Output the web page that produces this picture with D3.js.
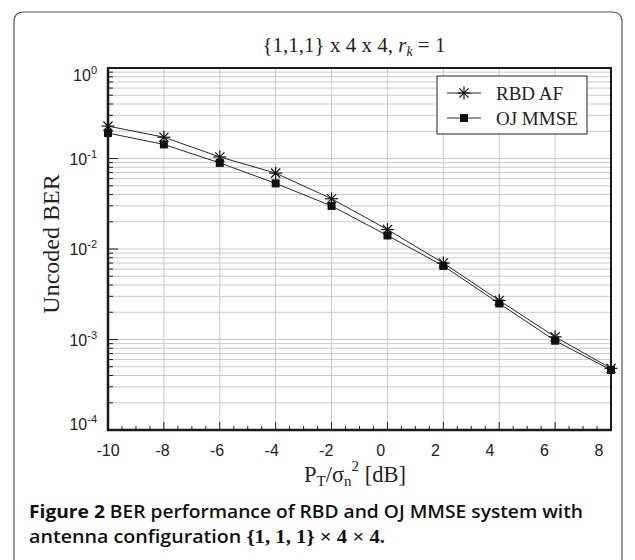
<!DOCTYPE html>
<html>
<head>
<meta charset="utf-8">
<script src="https://cdn.jsdelivr.net/npm/d3@7"></script>
<style>
  html, body { margin: 0; padding: 0; background: #fff; }
  svg { display: block; }
</style>
</head>
<body>
<div id="chart"></div>
<script>
// ---- data ----
const snrDb = [-10, -8, -6, -4, -2, 0, 2, 4, 6, 8];
const rbdAF = [0.228, 0.172, 0.104, 0.0689, 0.0359, 0.0164, 0.0070, 0.0027, 0.00107, 0.00048];
const ojMMSE = [0.191, 0.143, 0.0894, 0.0531, 0.0299, 0.0141, 0.0065, 0.0025, 0.00097, 0.00046];
const xTickValues = [-10, -8, -6, -4, -2, 0, 2, 4, 6, 8];
const yTickExponents = [0, -1, -2, -3, -4];
const seriesNames = ["RBD AF", "OJ MMSE"];

const W = 635, H = 560;
const svg = d3.select("#chart").append("svg").attr("width", W).attr("height", H);
svg.append("rect").attr("width", W).attr("height", H).attr("fill", "#fff");

// outer frame (rounded, open at bottom)
svg.append("path")
  .attr("d", "M14,580 L14,22 Q14,12 24,12 L612,12 Q622,12 622,22 L622,580")
  .attr("fill", "none").attr("stroke", "#555").attr("stroke-width", 1.2);

const plot = { left: 108, right: 611, top: 68, bottom: 430 };
const x = d3.scaleLinear().domain([-10, 8]).range([plot.left, plot.right]);
const y = d3.scaleLog().domain([1e-4, 1]).range([plot.bottom, plot.top]);
// tick labels in the reference are laid out on a slightly narrower span
const xLab = d3.scaleLinear().domain([-10, 8]).range([108, 599]);

const serif = "'Liberation Serif', 'Times New Roman', serif";
const sans = "'Liberation Sans', Arial, sans-serif";
const gridColor = "#c9c9c9";

// grid
const g = svg.append("g");
const minorVals = [];
for (let e = -4; e < 0; e++) for (let k = 1; k <= 9; k++) { if (!(e === -4 && k === 1)) minorVals.push(k * Math.pow(10, e)); }
g.selectAll(".hg").data(minorVals).join("line")
  .attr("x1", plot.left).attr("x2", plot.right)
  .attr("y1", d => y(d)).attr("y2", d => y(d))
  .attr("stroke", gridColor).attr("stroke-width", 1);
g.selectAll(".vg").data(xTickValues.filter(v => v > -10 && v < 8)).join("line")
  .attr("x1", d => x(d)).attr("x2", d => x(d))
  .attr("y1", plot.top).attr("y2", plot.bottom)
  .attr("stroke", gridColor).attr("stroke-width", 1);

// ticks: bottom minor every 0.5 dB
const xMinor = d3.range(-10, 8.01, 0.5);
g.selectAll(".xt").data(xMinor).join("line")
  .attr("x1", d => x(d)).attr("x2", d => x(d))
  .attr("y1", plot.bottom).attr("y2", d => plot.bottom - (Math.abs(d % 2) < 1e-6 ? 8 : 4))
  .attr("stroke", "#222").attr("stroke-width", 1);
// left ticks
const yTicks = [];
for (let e = -4; e < 0; e++) for (let k = 1; k <= 9; k++) yTicks.push({ v: k * Math.pow(10, e), major: k === 1 });
g.selectAll(".yt").data(yTicks).join("line")
  .attr("x1", plot.left).attr("x2", d => plot.left + (d.major ? 10 : 5))
  .attr("y1", d => y(d.v)).attr("y2", d => y(d.v))
  .attr("stroke", "#222").attr("stroke-width", 1);

// axes frame
g.append("rect").attr("x", plot.left).attr("y", plot.top)
  .attr("width", plot.right - plot.left).attr("height", plot.bottom - plot.top)
  .attr("fill", "none").attr("stroke", "#1a1a1a").attr("stroke-width", 2);
g.append("line").attr("x1", plot.left).attr("x2", plot.left).attr("y1", plot.top).attr("y2", plot.bottom + 1)
  .attr("stroke", "#1a1a1a").attr("stroke-width", 2.5);
g.append("line").attr("x1", plot.left - 1).attr("x2", plot.right + 1).attr("y1", plot.bottom).attr("y2", plot.bottom)
  .attr("stroke", "#1a1a1a").attr("stroke-width", 2.5);

// x tick labels
svg.selectAll(".xl").data(xTickValues).join("text")
  .attr("x", d => xLab(d)).attr("y", 456)
  .attr("text-anchor", "middle")
  .attr("font-family", sans).attr("font-size", 16).attr("fill", "#222")
  .text(d => d);

// y tick labels
const yOff = { "0": 7, "-4": -6 };
const yl = svg.selectAll(".yl").data(yTickExponents).join("text")
  .attr("x", 97).attr("y", d => y(Math.pow(10, d)) + 6 + (yOff[d] || 0))
  .attr("text-anchor", "end")
  .attr("font-family", sans).attr("font-size", 16).attr("fill", "#222");
yl.append("tspan").text("10");
yl.append("tspan").attr("dy", -7).attr("font-size", 11).text(d => d);

// series
const lineGen = d3.line().x(d => x(d[0])).y(d => y(d[1]));
const rbdPts = snrDb.map((v, i) => [v, rbdAF[i]]);
const ojPts = snrDb.map((v, i) => [v, ojMMSE[i]]);
const sg = svg.append("g");
[rbdPts, ojPts].forEach(pts => {
  sg.append("path").attr("d", lineGen(pts)).attr("fill", "none")
    .attr("stroke", "#2a2a2a").attr("stroke-width", 1);
});

function asterisk(sel, cx, cy, r) {
  const a = sel.append("g").attr("transform", `translate(${cx},${cy})`)
    .attr("stroke", "#111").attr("stroke-width", 1.2);
  [0, 45, 90, 135].forEach(ang => {
    const rad = ang * Math.PI / 180;
    a.append("line").attr("x1", -r * Math.cos(rad)).attr("y1", -r * Math.sin(rad))
      .attr("x2", r * Math.cos(rad)).attr("y2", r * Math.sin(rad));
  });
}
function square(sel, cx, cy, s) {
  sel.append("rect").attr("x", cx - s / 2).attr("y", cy - s / 2)
    .attr("width", s).attr("height", s).attr("fill", "#111");
}
rbdPts.forEach(p => asterisk(sg, x(p[0]), y(p[1]), 6.5));
ojPts.forEach(p => square(sg, x(p[0]), y(p[1]), 8));

// legend
const lg = svg.append("g");
lg.append("rect").attr("x", 437).attr("y", 76).attr("width", 150).attr("height", 58)
  .attr("fill", "#fff").attr("stroke", "#222").attr("stroke-width", 1);
const legRows = [{ name: seriesNames[0], yy: 93, m: "ast" }, { name: seriesNames[1], yy: 118, m: "sq" }];
legRows.forEach(r => {
  lg.append("line").attr("x1", 447).attr("x2", 481).attr("y1", r.yy).attr("y2", r.yy)
    .attr("stroke", "#2a2a2a").attr("stroke-width", 1);
  if (r.m === "ast") asterisk(lg, 464, r.yy, 6.5); else square(lg, 464, r.yy, 8);
  lg.append("text").attr("x", 496).attr("y", r.yy + 7)
    .attr("font-family", serif).attr("font-size", 19).attr("fill", "#222").text(r.name);
});

// title
const t = svg.append("text").attr("x", 354).attr("y", 52).attr("text-anchor", "middle")
  .attr("font-family", serif).attr("font-size", 21).attr("fill", "#222");
t.append("tspan").text("{1,1,1} x 4 x 4, ");
t.append("tspan").attr("font-style", "italic").text("r");
t.append("tspan").attr("font-style", "italic").attr("font-size", 14).attr("dy", 4).text("k");
t.append("tspan").attr("dy", -4).text(" = 1");

// x label
const xlab = svg.append("text").attr("x", 355).attr("y", 482).attr("text-anchor", "middle")
  .attr("font-family", serif).attr("font-size", 22.5).attr("fill", "#222");
xlab.append("tspan").text("P");
xlab.append("tspan").attr("font-size", 15).attr("dy", 4).text("T");
xlab.append("tspan").attr("dy", -4).text("/σ");
xlab.append("tspan").attr("font-size", 15).attr("dy", 4).text("n");
xlab.append("tspan").attr("font-size", 15).attr("dy", -15).text("2");
xlab.append("tspan").attr("dy", 11).text(" [dB]");

// y label
svg.append("text").attr("transform", "translate(59,244) rotate(-90)")
  .attr("text-anchor", "middle").attr("font-family", serif).attr("font-size", 24)
  .attr("fill", "#222").text("Uncoded BER");

// caption
const capFont = "'Open Sans', 'Noto Sans', sans-serif";
const c1 = svg.append("text").attr("x", 29).attr("y", 518)
  .attr("font-family", capFont).attr("font-size", 18).attr("fill", "#111")
  .attr("textLength", 554).attr("lengthAdjust", "spacingAndGlyphs");
c1.append("tspan").attr("font-weight", 700).text("Figure 2");
c1.append("tspan").attr("font-weight", 600).text(" BER performance of RBD and OJ MMSE system with");
const c2 = svg.append("text").attr("x", 29).attr("y", 543)
  .attr("font-family", capFont).attr("font-size", 18).attr("fill", "#111")
  .attr("textLength", 356).attr("lengthAdjust", "spacingAndGlyphs");
c2.append("tspan").attr("font-weight", 600).text("antenna configuration ");
c2.append("tspan").attr("font-family", serif).attr("font-weight", 700).attr("font-size", 19)
  .text("{1, 1, 1} × 4 × 4.");
</script>
</body>
</html>
